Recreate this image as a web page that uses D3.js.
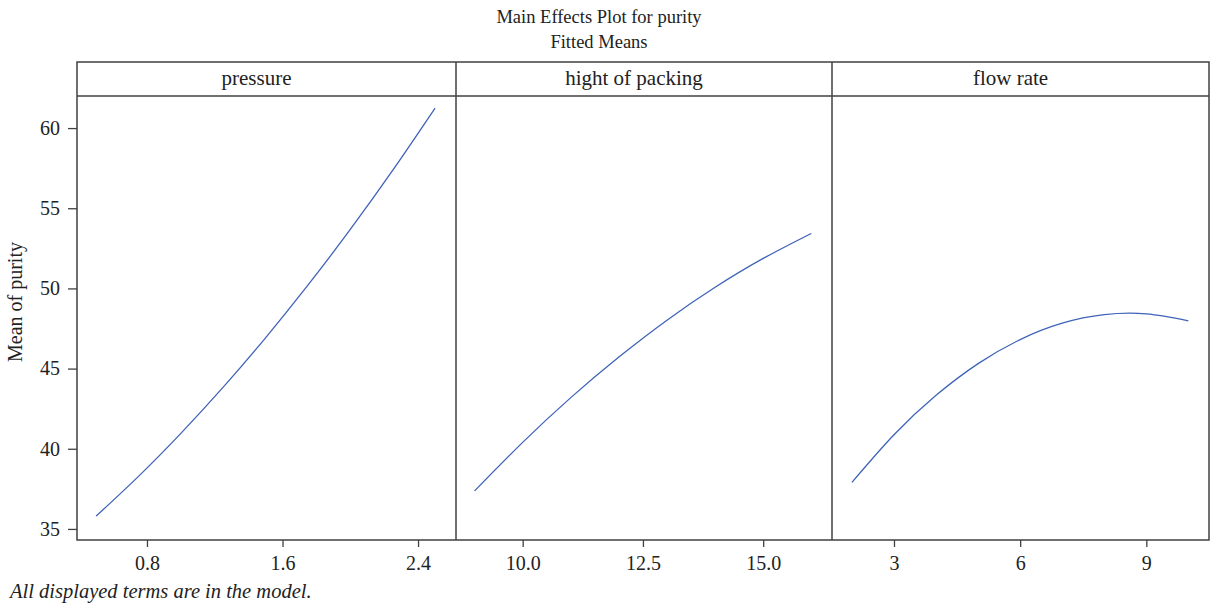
<!DOCTYPE html>
<html lang="en">
<head>
    <meta charset="UTF-8">
    <title>Main Effects Plot for purity</title>
    <script src="https://cdn.jsdelivr.net/npm/d3@7"></script>
    <style>
        body { margin: 0; background: #fff; }
        svg { display: block; font-family: "Liberation Serif", "DejaVu Serif", serif; }
    </style>
</head>
<body>
<script>
    'use strict';
    // values
    var factors = ['pressure', 'hight of packing', 'flow rate'];

    var pressureLevels = [0.5, 0.75, 1.0, 1.25, 1.5, 1.75, 2.0, 2.25, 2.5];
    var pressureMeans = [35.8, 38.28, 40.96, 43.84, 46.92, 50.2, 53.68, 57.36, 61.24];

    var packingLevels = [9, 10, 11, 12, 13, 14, 15, 16];
    var packingMeans = [37.37, 40.4, 43.19, 45.72, 48.02, 50.07, 51.87, 53.43];

    var flowLevels = [2, 3, 4, 5, 6, 7, 8, 9, 10];
    var flowMeans = [37.9, 40.87, 43.33, 45.31, 46.81, 47.83, 48.36, 48.41, 47.98];

    var yTicks = [35, 40, 45, 50, 55, 60];
    var pressureTicks = [0.8, 1.6, 2.4];
    var packingTicks = [10.0, 12.5, 15.0];
    var flowTicks = [3, 6, 9];

    var w = 1210, h = 610;
    var frameL = 77, frameR = 1209, frameT = 62, stripH = 34, frameB = 540;
    var plotTop = frameT + stripH;
    var edges = [77, 456, 832, 1209];

    var panels = [
        { name: factors[0], xs: pressureLevels, ys: pressureMeans, ticks: pressureTicks, fmt: d3.format('.1f'), dom: [0.387, 2.624] },
        { name: factors[1], xs: packingLevels, ys: packingMeans, ticks: packingTicks, fmt: d3.format('.1f'), dom: [8.614, 16.43] },
        { name: factors[2], xs: flowLevels, ys: flowMeans, ticks: flowTicks, fmt: d3.format('d'), dom: [1.526, 10.49] }
    ];

    var ink = '#404040', txt = '#222';

    var svg = d3.select('body').append('svg')
        .attr('width', w)
        .attr('height', h);

    svg.append('text')
        .attr('x', 599).attr('y', 23)
        .attr('text-anchor', 'middle')
        .attr('font-size', '18.5px').attr('fill', txt)
        .text('Main Effects Plot for purity');
    svg.append('text')
        .attr('x', 599).attr('y', 48)
        .attr('text-anchor', 'middle')
        .attr('font-size', '18.5px').attr('fill', txt)
        .text('Fitted Means');

    var y = d3.scaleLinear()
        .domain([34.31, 62.0])
        .range([frameB, plotTop]);

    panels.forEach(function(p, i) {
        var x = d3.scaleLinear()
            .domain(p.dom)
            .range([edges[i], edges[i + 1]]);

        var line = d3.line()
            .x(function(d) { return x(d[0]); })
            .y(function(d) { return y(d[1]); })
            .curve(d3.curveNatural);

        svg.append('path')
            .datum(p.xs.map(function(v, k) { return [v, p.ys[k]]; }))
            .attr('fill', 'none')
            .attr('stroke', '#3f63b8')
            .attr('stroke-width', 1.3)
            .attr('d', line);

        var xa = svg.append('g')
            .attr('transform', 'translate(0,' + frameB + ')')
            .call(d3.axisBottom(x).tickValues(p.ticks).tickFormat(p.fmt).tickSize(7).tickSizeOuter(0));
        xa.select('.domain').remove();
        xa.selectAll('line').attr('stroke', ink).attr('stroke-width', 1.3);
        xa.selectAll('text').attr('font-size', '20px').attr('fill', txt)
            .attr('font-family', '"Liberation Serif", serif').attr('dy', '1.0em');

        svg.append('text')
            .attr('x', (edges[i] + edges[i + 1]) / 2 - 10)
            .attr('y', frameT + 23)
            .attr('text-anchor', 'middle')
            .attr('font-size', '21px').attr('fill', txt)
            .text(p.name);
    });

    var ya = svg.append('g')
        .attr('transform', 'translate(' + frameL + ',0)')
        .call(d3.axisLeft(y).tickValues(yTicks).tickSize(9).tickSizeOuter(0));
    ya.select('.domain').remove();
    ya.selectAll('line').attr('stroke', ink).attr('stroke-width', 1.3);
    ya.selectAll('text').attr('font-size', '20px').attr('fill', txt)
        .attr('font-family', '"Liberation Serif", serif').attr('x', -17);

    // frame, strip and panel dividers
    svg.append('rect')
        .attr('x', frameL).attr('y', frameT)
        .attr('width', frameR - frameL).attr('height', frameB - frameT)
        .attr('fill', 'none').attr('stroke', ink).attr('stroke-width', 1.5);
    svg.append('line')
        .attr('x1', frameL).attr('x2', frameR)
        .attr('y1', plotTop).attr('y2', plotTop)
        .attr('stroke', ink).attr('stroke-width', 1.5);
    svg.selectAll('.divider')
        .data(edges.slice(1, 3))
        .enter()
        .append('line')
        .attr('class', 'divider')
        .attr('x1', function(d) { return d; }).attr('x2', function(d) { return d; })
        .attr('y1', frameT).attr('y2', frameB)
        .attr('stroke', ink).attr('stroke-width', 1.5);

    svg.append('text')
        .attr('transform', 'translate(22,302) rotate(-90)')
        .attr('text-anchor', 'middle')
        .attr('font-size', '20px').attr('fill', txt)
        .text('Mean of purity');

    svg.append('text')
        .attr('x', 10).attr('y', 598)
        .attr('font-size', '20.5px').attr('font-style', 'italic').attr('fill', txt)
        .text('All displayed terms are in the model.');
</script>
</body>
</html>
